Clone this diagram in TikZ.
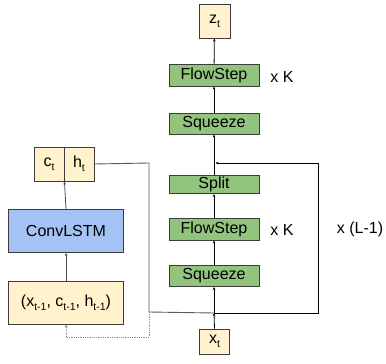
\documentclass[tikz,border=0pt]{standalone}
\usepackage{fontspec}
\setmainfont{Liberation Sans}
\usetikzlibrary{arrows.meta}
\definecolor{ylw}{HTML}{FFF2CC}
\definecolor{grn}{HTML}{93C47D}
\definecolor{blu}{HTML}{A4C2F4}
\definecolor{edge}{HTML}{3C3C3C}
\newcommand{\sbs}[1]{\raisebox{-0.45ex}{\fontsize{10.5}{12}\selectfont #1}}
\begin{document}
\begin{tikzpicture}[x=1pt,y=-1pt,
  box/.style={draw=edge,line width=0.9pt,inner sep=0pt,font=\fontsize{16}{19}\selectfont},
  ybox/.style={box,fill=ylw},
  gbox/.style={box,fill=grn,minimum width=90pt},
  bbox/.style={box,fill=blu},
  lab/.style={font=\fontsize{16}{19}\selectfont},
  arr/.style={-{Stealth[length=3pt,width=2.6pt]},line width=0.8pt},
  ln/.style={line width=0.8pt},
  gln/.style={line width=0.9pt,draw=black!65}]
\useasboundingbox (0,0) rectangle (386,364);
% flow column
\node[ybox,minimum width=31pt,minimum height=34pt] (zt) at (214.5,21) {z\sbs{t}};
\node[gbox,minimum height=22pt] (fs1) at (214,75) {FlowStep};
\node[gbox,minimum height=21pt] (sq1) at (214,123.5) {Squeeze};
\node[gbox,minimum height=18pt] (split) at (214,184.5) {Split};
\node[gbox,minimum height=22pt] (fs2) at (214,229) {FlowStep};
\node[gbox,minimum height=21pt] (sq2) at (214,276) {Squeeze};
\node[ybox,minimum width=30pt,minimum height=25pt] (xt) at (214.5,341.5) {x\sbs{t}};
\node[lab] (k1) at (282,76.5) {x K};
\node[lab] (k2) at (282,230) {x K};
\node[lab] (L) at (360,229.5) {x (L-1)};
% LSTM column
\node[ybox,minimum width=30pt,minimum height=34pt] (ct) at (49,164) {c\sbs{t}};
\node[ybox,minimum width=30pt,minimum height=34pt] (ht) at (79,164) {h\sbs{t}};
\node[bbox,minimum width=115pt,minimum height=43pt] (conv) at (66,231) {ConvLSTM};
\node[ybox,minimum width=115pt,minimum height=43pt] (inp) at (66,302.5) {(x\sbs{t-1}, c\sbs{t-1}, h\sbs{t-1})};
% coordinates
\coordinate (J) at (214,313);
\coordinate (Jr) at (318.5,313);
\coordinate (Rt) at (318.5,163);
\coordinate (M) at (214,163);
\coordinate (Ht) at (149,163);
\coordinate (Hb) at (149,312);
\coordinate (Db) at (149,337);
\coordinate (Dl) at (66,337);
% flow arrows
\draw[arr] (xt.north) -- (J);
\draw[arr] (J) -- (sq2.south);
\draw[arr] (sq2) -- (fs2);
\draw[arr] (fs2) -- (split);
\draw[arr] (split) -- (sq1);
\draw[arr] (sq1) -- (fs1);
\draw[arr] (fs1) -- (zt);
\draw[ln] (J) -- (Jr) -- (Rt);
\draw[arr] (Rt) -- ([xshift=1.5pt]M);
% LSTM arrows
\draw[arr,draw=black!70] (inp.north) -- (conv.south);
\draw[arr,draw=black!70] (conv.north) -- (ct.south east);
\draw[gln] (ht.east) -- (Ht) -- (Hb) -- (J);
\draw[arr,densely dotted,draw=black!45,line width=0.7pt] (Hb) -- (Db) -- (Dl) -- (inp.south);
\end{tikzpicture}
\end{document}
